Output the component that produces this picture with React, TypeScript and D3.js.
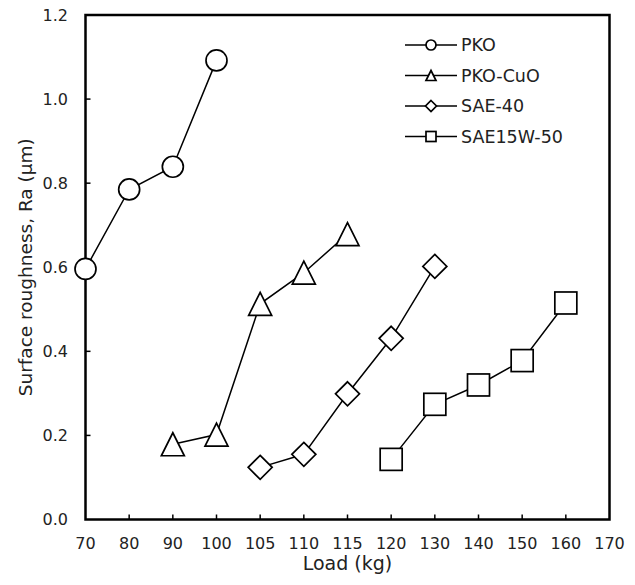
import React from 'react';
import * as d3 from 'd3';

const loadLabels = ['70', '80', '90', '100', '105', '110', '115', '120', '130', '140', '150', '160', '170'];
const yTickValues = [0, 0.2, 0.4, 0.6, 0.8, 1.0, 1.2];

const seriesNames = ['PKO', 'PKO-CuO', 'SAE-40', 'SAE15W-50'];
const pkoLoads = ['70', '80', '90', '100'];
const pkoRa = [0.596, 0.785, 0.839, 1.092];
const pkoCuoLoads = ['90', '100', '105', '110', '115'];
const pkoCuoRa = [0.179, 0.202, 0.513, 0.587, 0.679];
const sae40Loads = ['105', '110', '115', '120', '130'];
const sae40Ra = [0.124, 0.155, 0.299, 0.431, 0.602];
const sae15Loads = ['120', '130', '140', '150', '160'];
const sae15Ra = [0.143, 0.274, 0.32, 0.378, 0.515];

const FONT = '"DejaVu Sans", sans-serif';

type Shape = 'circle' | 'triangle' | 'diamond' | 'square';

function Marker({ shape, x, y, s }: { shape: Shape; x: number; y: number; s: number }) {
  const common = { fill: '#fff', stroke: '#000', strokeWidth: 1.7 };
  if (shape === 'circle') return <circle cx={x} cy={y} r={s / 2} {...common} />;
  if (shape === 'square') return <rect x={x - s / 2} y={y - s / 2} width={s} height={s} {...common} />;
  if (shape === 'diamond') {
    const h = s / 2;
    return <path d={`M${x},${y - h}L${x + h},${y}L${x},${y + h}L${x - h},${y}Z`} {...common} />;
  }
  const h = s / 2;
  return <path d={`M${x},${y - h}L${x + h},${y + h}L${x - h},${y + h}Z`} {...common} />;
}

export default function App() {
  const W = 635, H = 585;
  const left = 85.5, right = 609.5, top = 15, bottom = 519.5;
  const x = d3.scalePoint<string>().domain(loadLabels).range([left, right]).padding(0);
  const y = d3.scaleLinear().domain([0, 1.2]).range([bottom, top]);

  const series = [
    { name: seriesNames[0], loads: pkoLoads, vals: pkoRa, shape: 'circle' as Shape, size: 21 },
    { name: seriesNames[1], loads: pkoCuoLoads, vals: pkoCuoRa, shape: 'triangle' as Shape, size: 23 },
    { name: seriesNames[2], loads: sae40Loads, vals: sae40Ra, shape: 'diamond' as Shape, size: 24 },
    { name: seriesNames[3], loads: sae15Loads, vals: sae15Ra, shape: 'square' as Shape, size: 22 },
  ];

  const line = d3.line<[string, number]>().x(d => x(d[0])!).y(d => y(d[1]));

  const legendY = [45, 75.5, 106, 136.5];

  return (
    <svg width={W} height={H} style={{ position: 'absolute', left: 0, top: 0, background: '#fff' }}>
      <rect x={0} y={0} width={W} height={H} fill="#fff" />
      {/* frame */}
      <rect x={left} y={top} width={right - left} height={bottom - top} fill="none" stroke="#000" strokeWidth={2.5} />
      {/* y ticks */}
      {yTickValues.map(v => (
        <g key={'y' + v}>
          {v > 0 && v < 1.2 && <line x1={left} x2={left + 5} y1={y(v)} y2={y(v)} stroke="#000" strokeWidth={1.5} />}
          <text x={68} y={y(v)} dy="0.36em" textAnchor="end" fontFamily={FONT} fontSize={16} fill="#222">
            {d3.format('.1f')(v)}
          </text>
        </g>
      ))}
      {/* x ticks */}
      {loadLabels.map((l, i) => (
        <g key={'x' + l}>
          {i > 0 && i < loadLabels.length - 1 && (
            <line x1={x(l)} x2={x(l)} y1={bottom} y2={bottom - 5} stroke="#000" strokeWidth={1.5} />
          )}
          <text x={x(l)} y={549} textAnchor="middle" fontFamily={FONT} fontSize={16} fill="#222">
            {l}
          </text>
        </g>
      ))}
      {/* axis titles */}
      <text x={(left + right) / 2} y={570} textAnchor="middle" fontFamily={FONT} fontSize={19} fill="#222">
        Load (kg)
      </text>
      <text
        transform={`translate(32,${(top + bottom) / 2}) rotate(-90)`}
        textAnchor="middle"
        fontFamily={FONT}
        fontSize={18.5}
        fill="#222"
      >
        Surface roughness, Ra (µm)
      </text>
      {/* series */}
      {series.map(s => {
        const pts: [string, number][] = s.loads.map((l, i) => [l, s.vals[i]]);
        return (
          <g key={s.name}>
            <path d={line(pts)!} fill="none" stroke="#000" strokeWidth={1.5} />
            {pts.map((p, i) => (
              <Marker key={i} shape={s.shape} x={x(p[0])!} y={y(p[1])} s={s.size} />
            ))}
          </g>
        );
      })}
      {/* legend */}
      {series.map((s, i) => (
        <g key={'lg' + s.name}>
          <line x1={405} x2={457} y1={legendY[i]} y2={legendY[i]} stroke="#000" strokeWidth={1.5} />
          <Marker shape={s.shape} x={431} y={legendY[i]} s={s.shape === 'diamond' ? 11 : 10} />
          <text x={461} y={legendY[i]} dy="0.36em" fontFamily={FONT} fontSize={17.5} fill="#222">
            {s.name}
          </text>
        </g>
      ))}
    </svg>
  );
}
